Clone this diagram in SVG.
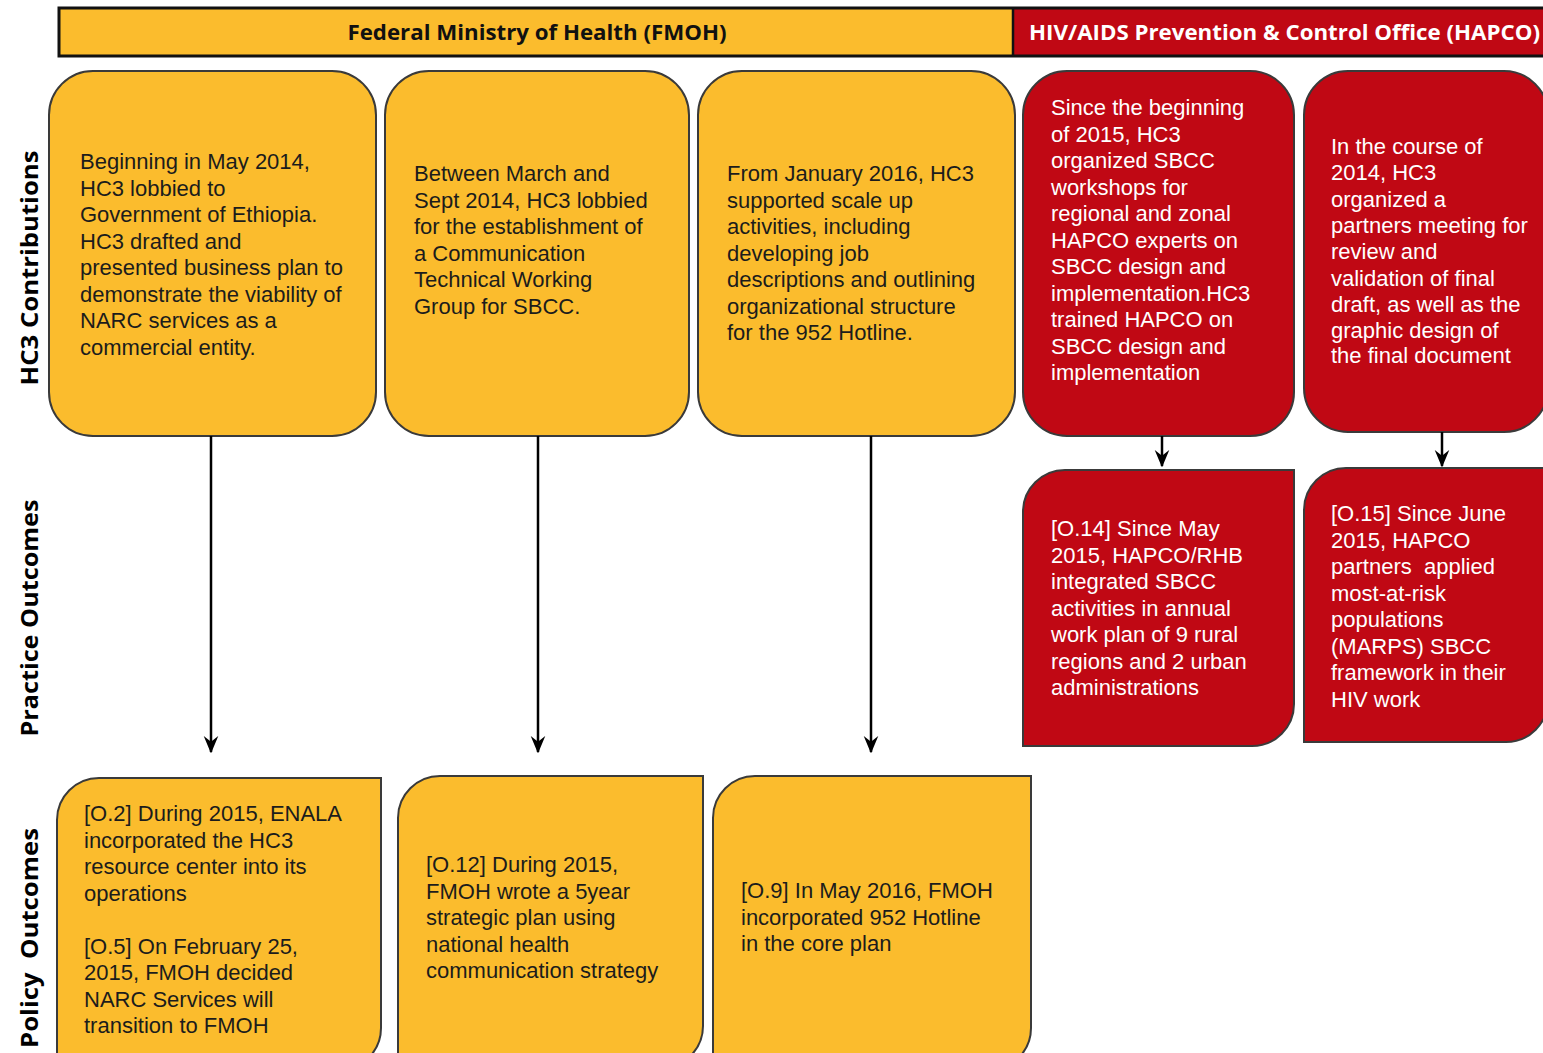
<svg xmlns="http://www.w3.org/2000/svg" width="1543" height="1053" viewBox="0 0 1543 1053">
<style>
.y{fill:#FBBC2D;stroke:#3a3a3a;stroke-width:2}
.r{fill:#C00814;stroke:#3a3a3a;stroke-width:2}
.t{font-family:"Liberation Sans",Arial,sans-serif;font-size:22px}
.tk{fill:#1c1c1c}
.tw{fill:#ffffff}
.hd{font-family:"Open Sans","Liberation Sans",sans-serif;font-weight:700;font-size:21px}
.sd{font-family:"Open Sans","Liberation Sans",sans-serif;font-weight:700;font-size:23px;fill:#000}
.ar{stroke:#000;stroke-width:2.5;fill:none;marker-end:url(#ah)}
.pre{white-space:pre}
</style>
<defs>
<marker id="ah" viewBox="0 0 12 12" refX="11" refY="6" markerWidth="7" markerHeight="7" markerUnits="strokeWidth" orient="auto">
<path d="M0,1 L12,6 L0,11 L4,6 z" fill="#000"/>
</marker>
</defs>
<rect width="1543" height="1053" fill="#fff"/>

<g id="header">
<rect x="59" y="8" width="954" height="48" fill="#FBBC2D"/>
<rect x="1013" y="8" width="536" height="48" fill="#C00814"/>
<rect x="59" y="8" width="1490" height="48" fill="none" stroke="#111" stroke-width="3"/>
<line x1="1013" y1="8" x2="1013" y2="56" stroke="#111" stroke-width="2.5"/>
<text class="hd" x="537" y="40" text-anchor="middle" fill="#111" textLength="379" lengthAdjust="spacingAndGlyphs">Federal Ministry of Health (FMOH)</text>
<text class="hd" x="1029" y="40" fill="#fff" textLength="511" lengthAdjust="spacingAndGlyphs">HIV/AIDS Prevention &amp; Control Office (HAPCO)</text>
</g>

<g id="side-labels">
<text class="sd" transform="translate(38,268) rotate(-90)" text-anchor="middle" textLength="235" lengthAdjust="spacingAndGlyphs">HC3 Contributions</text>
<text class="sd" transform="translate(38,618) rotate(-90)" text-anchor="middle" textLength="237" lengthAdjust="spacingAndGlyphs">Practice Outcomes</text>
<text class="sd pre" xml:space="preserve" transform="translate(38,938) rotate(-90)" text-anchor="middle" textLength="220" lengthAdjust="spacingAndGlyphs">Policy  Outcomes</text>
</g>

<g id="c1">
<rect class="y" x="49" y="71" width="327" height="365" rx="44"/>
<text class="t tk" x="80" y="169"><tspan x="80">Beginning in May 2014,</tspan><tspan x="80" dy="26.5">HC3 lobbied to</tspan><tspan x="80" dy="26.5">Government of Ethiopia.</tspan><tspan x="80" dy="26.5">HC3 drafted and</tspan><tspan x="80" dy="26.5">presented business plan to</tspan><tspan x="80" dy="26.5">demonstrate the viability of</tspan><tspan x="80" dy="26.5">NARC services as a</tspan><tspan x="80" dy="26.5">commercial entity.</tspan></text>
</g>

<g id="c2">
<rect class="y" x="385" y="71" width="304" height="365" rx="44"/>
<text class="t tk" x="414" y="181"><tspan x="414">Between March and</tspan><tspan x="414" dy="26.5">Sept 2014, HC3 lobbied</tspan><tspan x="414" dy="26.5">for the establishment of</tspan><tspan x="414" dy="26.5">a Communication</tspan><tspan x="414" dy="26.5">Technical Working</tspan><tspan x="414" dy="26.5">Group for SBCC.</tspan></text>
</g>

<g id="c3">
<rect class="y" x="698" y="71" width="317" height="365" rx="44"/>
<text class="t tk" x="727" y="181"><tspan x="727">From January 2016, HC3</tspan><tspan x="727" dy="26.5">supported scale up</tspan><tspan x="727" dy="26.5">activities, including</tspan><tspan x="727" dy="26.5">developing job</tspan><tspan x="727" dy="26.5">descriptions and outlining</tspan><tspan x="727" dy="26.5">organizational structure</tspan><tspan x="727" dy="26.5">for the 952 Hotline.</tspan></text>
</g>

<g id="c4">
<rect class="r" x="1023" y="71" width="271" height="365" rx="44"/>
<text class="t tw" x="1051" y="115"><tspan x="1051">Since the beginning</tspan><tspan x="1051" dy="26.5">of 2015, HC3</tspan><tspan x="1051" dy="26.5">organized SBCC</tspan><tspan x="1051" dy="26.5">workshops for</tspan><tspan x="1051" dy="26.5">regional and zonal</tspan><tspan x="1051" dy="26.5">HAPCO experts on</tspan><tspan x="1051" dy="26.5">SBCC design and</tspan><tspan x="1051" dy="26.5">implementation.HC3</tspan><tspan x="1051" dy="26.5">trained HAPCO on</tspan><tspan x="1051" dy="26.5">SBCC design and</tspan><tspan x="1051" dy="26.5">implementation</tspan></text>
</g>

<g id="c5">
<rect class="r" x="1304" y="71" width="244" height="361" rx="44"/>
<text class="t tw" x="1331" y="154"><tspan x="1331">In the course of</tspan><tspan x="1331" dy="26.3">2014, HC3</tspan><tspan x="1331" dy="26.3">organized a</tspan><tspan x="1331" dy="26.3">partners meeting for</tspan><tspan x="1331" dy="26.3">review and</tspan><tspan x="1331" dy="26.3">validation of final</tspan><tspan x="1331" dy="26.3">draft, as well as the</tspan><tspan x="1331" dy="26.3">graphic design of</tspan><tspan x="1331" dy="25">the final document</tspan></text>
</g>

<g id="p1">
<path class="r" d="M1023,746 L1023,512 A42,42 0 0 1 1065,470 L1294,470 L1294,704 A42,42 0 0 1 1252,746 Z"/>
<text class="t tw" x="1051" y="536"><tspan x="1051">[O.14] Since May</tspan><tspan x="1051" dy="26.5">2015, HAPCO/RHB</tspan><tspan x="1051" dy="26.5">integrated SBCC</tspan><tspan x="1051" dy="26.5">activities in annual</tspan><tspan x="1051" dy="26.5">work plan of 9 rural</tspan><tspan x="1051" dy="26.5">regions and 2 urban</tspan><tspan x="1051" dy="26.5">administrations</tspan></text>
</g>

<g id="p2">
<path class="r" d="M1304,742 L1304,510 A42,42 0 0 1 1346,468 L1548,468 L1548,700 A42,42 0 0 1 1506,742 Z"/>
<text class="t tw pre" xml:space="preserve" x="1331" y="521"><tspan x="1331">[O.15] Since June</tspan><tspan x="1331" dy="26.5">2015, HAPCO</tspan><tspan x="1331" dy="26.5">partners  applied</tspan><tspan x="1331" dy="26.5">most-at-risk</tspan><tspan x="1331" dy="26.5">populations</tspan><tspan x="1331" dy="26.5">(MARPS) SBCC</tspan><tspan x="1331" dy="26.5">framework in their</tspan><tspan x="1331" dy="26.5">HIV work</tspan></text>
</g>

<g id="o1">
<path class="y" d="M57,1070 L57,820 A42,42 0 0 1 99,778 L381,778 L381,1028 A42,42 0 0 1 339,1070 Z"/>
<text class="t tk" x="84" y="821"><tspan x="84">[O.2] During 2015, ENALA</tspan><tspan x="84" dy="26.5">incorporated the HC3</tspan><tspan x="84" dy="26.5">resource center into its</tspan><tspan x="84" dy="26.5">operations</tspan><tspan x="84" dy="53">[O.5] On February 25,</tspan><tspan x="84" dy="26.5">2015, FMOH decided</tspan><tspan x="84" dy="26.5">NARC Services will</tspan><tspan x="84" dy="26.5">transition to FMOH</tspan></text>
</g>

<g id="o2">
<path class="y" d="M398,1070 L398,818 A42,42 0 0 1 440,776 L703,776 L703,1026 A42,42 0 0 1 661,1068 Z"/>
<text class="t tk" x="426" y="872"><tspan x="426">[O.12] During 2015,</tspan><tspan x="426" dy="26.5">FMOH wrote a 5year</tspan><tspan x="426" dy="26.5">strategic plan using</tspan><tspan x="426" dy="26.5">national health</tspan><tspan x="426" dy="26.5">communication strategy</tspan></text>
</g>

<g id="o3">
<path class="y" d="M713,1070 L713,818 A42,42 0 0 1 755,776 L1031,776 L1031,1028 A42,42 0 0 1 989,1070 Z"/>
<text class="t tk" x="741" y="898"><tspan x="741">[O.9] In May 2016, FMOH</tspan><tspan x="741" dy="26.5">incorporated 952 Hotline</tspan><tspan x="741" dy="26.5">in the core plan</tspan></text>
</g>

<g id="connectors">
<line class="ar" x1="211" y1="436" x2="211" y2="752"/>
<line class="ar" x1="538" y1="436" x2="538" y2="752"/>
<line class="ar" x1="871" y1="436" x2="871" y2="752"/>
<line class="ar" x1="1162" y1="436" x2="1162" y2="466"/>
<line class="ar" x1="1442" y1="432" x2="1442" y2="466"/>
</g>
</svg>
